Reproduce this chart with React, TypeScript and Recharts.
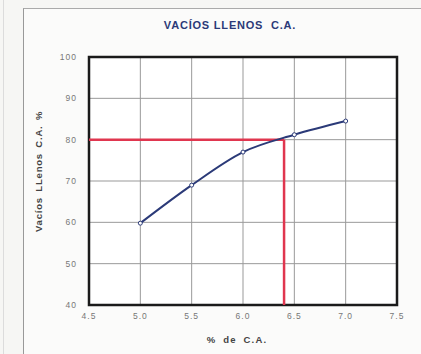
import React from "react";
import {
  ComposedChart,
  Line,
  XAxis,
  YAxis,
  CartesianGrid,
  ReferenceLine,
  ReferenceArea,
} from "recharts";

const asphaltPct = [5.0, 5.5, 6.0, 6.5, 7.0];
const vfaValues = [59.8, 69.0, 77.0, 81.2, 84.5];
const xTicks = [4.5, 5.0, 5.5, 6.0, 6.5, 7.0, 7.5];
const yTicks = [40, 50, 60, 70, 80, 90, 100];
const targetVfa = 80;
const optimumPct = 6.4;

const data = asphaltPct.map((x, i) => ({ x, y: vfaValues[i] }));

const navy = "#2b3a78";
const red = "#e0364f";
const tickStyle = {
  fontSize: 8.5,
  fill: "#777",
  letterSpacing: 1,
  fontFamily: "Liberation Sans, Arial, sans-serif",
};

export default function App() {
  return (
    <div
      style={{
        position: "absolute",
        left: 0,
        top: 0,
        width: 421,
        height: 354,
        background: "#f6f6f4",
        overflow: "hidden",
        fontFamily: "Liberation Sans, Arial, sans-serif",
      }}
    >
      <div style={{ position: "absolute", left: 3, top: 0, width: 1, height: 354, background: "#dcdcdc" }} />
      <div
        style={{
          position: "absolute",
          left: 23,
          top: 8,
          width: 400,
          height: 350,
          borderLeft: "1px solid #999",
          borderTop: "1px solid #aaa",
          background: "#fbfbfa",
        }}
      />
      <div
        style={{
          position: "absolute",
          left: 130,
          top: 19,
          width: 200,
          textAlign: "center",
          fontSize: 11,
          fontWeight: 900,
          color: navy,
          letterSpacing: 0.8,
          whiteSpace: "nowrap",
        }}
      >
        VACÍOS LLENOS&nbsp; C.A.
      </div>
      <div style={{ position: "absolute", left: 0, top: 0 }}>
        <ComposedChart
          width={421}
          height={354}
          data={data}
          margin={{ top: 57, right: 24, bottom: 29, left: 29 }}
        >
          <CartesianGrid stroke="#999" strokeWidth={1} fill="#ffffff" />
          <XAxis
            dataKey="x"
            type="number"
            domain={[4.5, 7.5]}
            ticks={xTicks}
            tickFormatter={(v: number) => v.toFixed(1)}
            tick={tickStyle}
            axisLine={false}
            tickLine={false}
            height={20}
            tickMargin={2}
            label={{
              value: "% de C.A.",
              position: "insideBottom",
              offset: -18,
              dx: -6,
              style: { fontSize: 9.5, fontWeight: "bold", fill: "#444", letterSpacing: 1.2, wordSpacing: 3 },
            }}
          />
          <YAxis
            type="number"
            domain={[40, 100]}
            ticks={yTicks}
            tick={tickStyle}
            axisLine={false}
            tickLine={false}
            width={60}
            tickMargin={6}
            label={{
              value: "Vacíos LLenos C.A. %",
              angle: -90,
              position: "insideLeft",
              offset: 10,
              dy: 51,
              style: { fontSize: 9.5, fontWeight: "bold", fill: "#444", letterSpacing: 0.8, wordSpacing: 2 },
            }}
          />
          <ReferenceLine
            segment={[
              { x: 4.5, y: targetVfa },
              { x: optimumPct, y: targetVfa },
            ]}
            stroke={red}
            strokeWidth={2.5}
          />
          <ReferenceLine
            segment={[
              { x: optimumPct, y: 40 },
              { x: optimumPct, y: targetVfa },
            ]}
            stroke={red}
            strokeWidth={2.5}
          />
          <ReferenceArea
            x1={4.5}
            x2={7.5}
            y1={40}
            y2={100}
            fill="none"
            stroke="#1a1a1a"
            strokeWidth={2.5}
            fillOpacity={0}
          />
          <Line
            dataKey="y"
            type="monotone"
            stroke={navy}
            strokeWidth={2}
            dot={{ r: 2, stroke: navy, strokeWidth: 1, fill: "#fff" }}
            isAnimationActive={false}
          />
        </ComposedChart>
      </div>
    </div>
  );
}
